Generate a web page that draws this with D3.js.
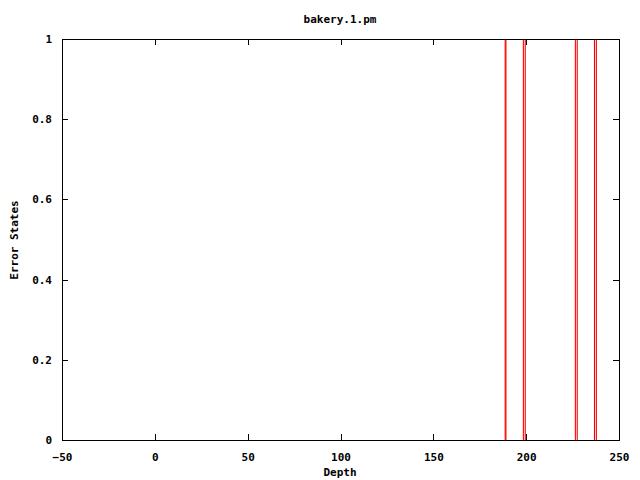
<!DOCTYPE html>
<html>
<head>
<meta charset="utf-8">
<script src="https://cdn.jsdelivr.net/npm/d3@7"></script>
<style>
  html, body { margin: 0; padding: 0; background: #fff; }
  text { font-family: "DejaVu Sans Mono", "Liberation Mono", monospace; font-weight: bold; font-size: 11px; fill: #000; }
</style>
</head>
<body>
<svg id="chart" width="640" height="480"></svg>
<script>
const chartTitle = "bakery.1.pm";
const xLabel = "Depth";
const yLabel = "Error States";
const xTicks = [-50, 0, 50, 100, 150, 200, 250];
const yTicks = [0, 0.2, 0.4, 0.6, 0.8, 1];
const yTickLabels = ["0", "0.2", "0.4", "0.6", "0.8", "1"];
// depths at which an error state (value 1) is recorded
const errorDepths = [188.7, 189.1, 198.5, 199.5, 226.5, 227.5, 236.8, 237.8];
const errorValues = [1, 1, 1, 1, 1, 1, 1, 1];

const svg = d3.select("#chart");
const mLeft = 62, mRight = 619, mTop = 39, mBottom = 440;

const x = d3.scaleLinear().domain([-50, 250]).range([mLeft, mRight]);
const y = d3.scaleLinear().domain([0, 1]).range([mBottom, mTop]);

const tickLen = 6;
const xAxisB = d3.axisBottom(x).tickValues(xTicks).tickSize(-tickLen).tickPadding(tickLen + 7).tickFormat(d3.format("d"));
const xAxisT = d3.axisTop(x).tickValues(xTicks).tickSize(-tickLen).tickFormat("");
const yAxisL = d3.axisLeft(y).tickValues(yTicks).tickSize(-tickLen).tickPadding(10).tickFormat((d, i) => yTickLabels[i]);
const yAxisR = d3.axisRight(y).tickValues(yTicks).tickSize(-tickLen).tickFormat("");

function style(g) {
  g.select(".domain").remove();
  g.selectAll(".tick line").attr("stroke", "#000").attr("shape-rendering", "crispEdges");
  g.selectAll("text").attr("font-family", null).attr("font-size", null);
  g.attr("font-family", null).attr("font-size", null);
}
svg.append("g").attr("transform", `translate(0,${mBottom})`).call(xAxisB).call(style);
svg.append("g").attr("transform", `translate(0,${mTop})`).call(xAxisT).call(style);
svg.append("g").attr("transform", `translate(${mLeft},0)`).call(yAxisL).call(style);
svg.append("g").attr("transform", `translate(${mRight},0)`).call(yAxisR).call(style);

// impulses
svg.append("g").attr("class", "impulses").selectAll("line")
  .data(errorDepths.map((d, i) => ({d, v: errorValues[i]})))
  .enter().append("line")
  .attr("x1", p => x(p.d)).attr("x2", p => x(p.d))
  .attr("y1", y(0)).attr("y2", p => y(p.v))
  .attr("stroke", "#ff0000").attr("stroke-width", 1.1);

svg.append("rect").attr("x", mLeft + 0.5).attr("y", mTop + 0.5)
  .attr("width", mRight - mLeft).attr("height", mBottom - mTop)
  .attr("fill", "none").attr("stroke", "#000").attr("stroke-width", 1)
  .attr("shape-rendering", "crispEdges");

svg.append("text").attr("x", 340).attr("y", 23).attr("text-anchor", "middle").text(chartTitle);
svg.append("text").attr("x", 340).attr("y", 476).attr("text-anchor", "middle").text(xLabel);
svg.append("text").attr("transform", "translate(18,240) rotate(-90)").attr("text-anchor", "middle").text(yLabel);
</script>
</body>
</html>
